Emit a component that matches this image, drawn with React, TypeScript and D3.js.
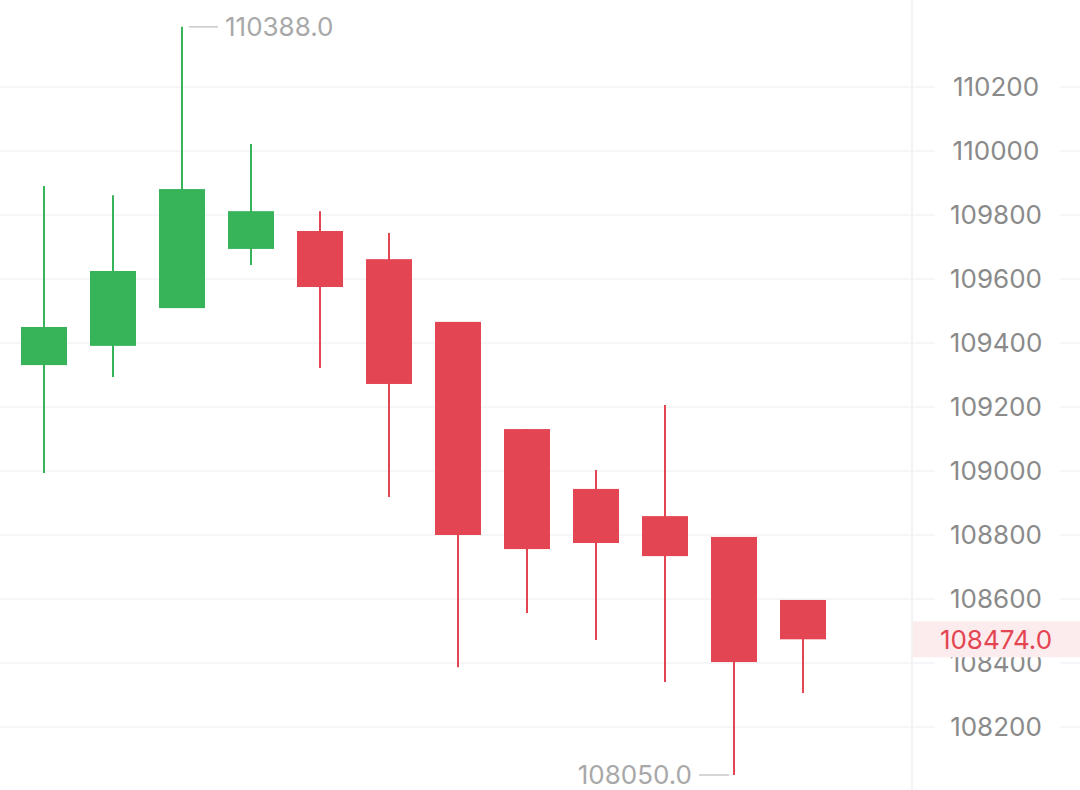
import React, { useEffect } from "react";
import * as d3 from "d3";

const categories = ["1", "2", "3", "4", "5", "6", "7", "8", "9", "10", "11", "12"];
const openValues = [109331, 109391, 109509, 109694, 109750, 109662, 109466, 109131, 108944, 108859, 108794, 108597];
const closeValues = [109450, 109625, 109881, 109812, 109575, 109272, 108800, 108756, 108775, 108734, 108403, 108474];
const highValues = [109891, 109862, 110388, 110022, 109812, 109744, 109466, 109131, 109003, 109206, 108794, 108597];
const lowValues = [108994, 109294, 109509, 109644, 109322, 108919, 108387, 108556, 108472, 108341, 108050, 108306];
const yTicks = [108200, 108400, 108600, 108800, 109000, 109200, 109400, 109600, 109800, 110000, 110200];

const W = 1080;
const H = 790;
const GREEN = "#37b35a";
const RED = "#e34553";
const FONT = "Inter, 'Noto Sans', sans-serif";

export default function App() {
  useEffect(() => {
    document.body.style.margin = "0";
  }, []);

  const y = d3.scaleLinear().domain([108200, 110200]).range([727, 87]);
  const x = d3.scaleLinear().domain([0, categories.length - 1]).range([44, 803]);
  const bodyW = 46;
  const axisX = 912;
  const labelX = 996;

  const last = closeValues[closeValues.length - 1];
  const maxIdx = d3.maxIndex(highValues);
  const minIdx = d3.minIndex(lowValues);
  const maxV = highValues[maxIdx];
  const minV = lowValues[minIdx];

  return (
    <svg width={W} height={H} style={{ display: "block", background: "#fff" }}>
      {yTicks.map((t) => (
        <line key={"g" + t} x1={0} x2={W} y1={y(t)} y2={y(t)} stroke="#f2f3f4" strokeWidth={1.5} />
      ))}
      <line x1={axisX} x2={axisX} y1={0} y2={H} stroke="#eef0f1" strokeWidth={1.5} />
      {yTicks.map((t) => (
        <g key={"t" + t}>
          <rect x={935} y={y(t) - 16} width={125} height={32} fill="#fff" />
          <text x={labelX} y={y(t)} dy="0.36em" textAnchor="middle" fontSize={26} fill="#8a8a8a" fontFamily={FONT}>
            {t}
          </text>
        </g>
      ))}
      {categories.map((c, i) => {
        const o = openValues[i];
        const cl = closeValues[i];
        const up = cl >= o;
        const col = up ? GREEN : RED;
        const cx = x(i);
        const top = y(Math.max(o, cl));
        const bot = y(Math.min(o, cl));
        return (
          <g key={c}>
            <line x1={cx} x2={cx} y1={y(highValues[i])} y2={y(lowValues[i])} stroke={col} strokeWidth={2} />
            <rect x={cx - bodyW / 2} y={top} width={bodyW} height={Math.max(1, bot - top)} fill={col} />
          </g>
        );
      })}
      {/* max label */}
      <line x1={x(maxIdx) + 7} x2={x(maxIdx) + 36} y1={y(maxV)} y2={y(maxV)} stroke="#c8c8c8" strokeWidth={1.5} />
      <text x={x(maxIdx) + 43} y={y(maxV)} dy="0.36em" fontSize={26} fill="#a8a8a8" fontFamily={FONT}>
        {maxV.toFixed(1)}
      </text>
      {/* min label */}
      <line x1={x(minIdx) - 35} x2={x(minIdx) - 5} y1={y(minV)} y2={y(minV)} stroke="#c8c8c8" strokeWidth={1.5} />
      <text x={x(minIdx) - 42} y={y(minV)} dy="0.36em" textAnchor="end" fontSize={26} fill="#a8a8a8" fontFamily={FONT}>
        {minV.toFixed(1)}
      </text>
      {/* last price */}
      <rect x={axisX + 1} y={y(last) - 18} width={W - axisX - 1} height={36} fill="#fdeced" />
      <text x={labelX} y={y(last)} dy="0.36em" textAnchor="middle" fontSize={26} fill={RED} fontFamily={FONT}>
        {last.toFixed(1)}
      </text>
    </svg>
  );
}
